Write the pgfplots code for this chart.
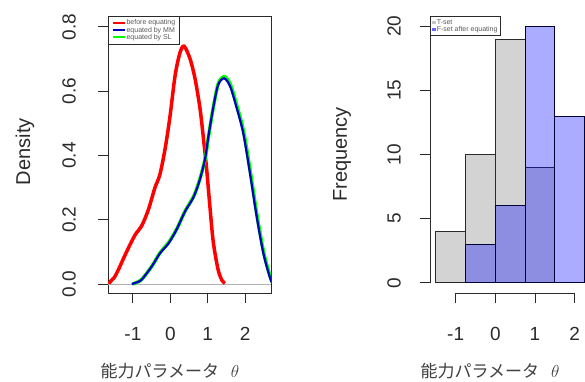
\documentclass[border=0pt]{standalone}
\usepackage{pgfplots}
\pgfplotsset{compat=1.18}
\usepackage{fontspec}
\setmainfont{Liberation Sans}
\newfontfamily\jp{Noto Sans CJK JP}
\definecolor{rgray}{HTML}{D3D3D3}
\definecolor{rblue}{HTML}{0000FF}
\definecolor{rgreen}{HTML}{00FF00}
\definecolor{rred}{HTML}{FF0000}
\definecolor{axcol}{HTML}{2A2A2A}

\begin{document}
\begin{tikzpicture}[x=1pt,y=1pt]
\useasboundingbox (0,0) rectangle (585,381);
% ---------------- left: density ----------------
\begin{axis}[
  at={(108pt,88pt)}, anchor=south west,
  scale only axis, width=163pt, height=277pt,
  xmin=-1.666, xmax=2.693, ymin=-0.028, ymax=0.834,
  axis line style={line width=0.9pt, axcol},
  xtick={-1,0,1,2}, xticklabels={-1,0,1,2},
  ytick={0,0.2,0.4,0.6,0.8}, yticklabels={0.0,0.2,0.4,0.6,0.8},
  xtick pos=left, ytick pos=left,
  tick align=outside, major tick length=10pt,
  tick style={line width=0.9pt, axcol},
  ticklabel style={font=\fontsize{19}{22}\selectfont, inner sep=0pt, text=axcol},
  xticklabel style={anchor=north, yshift=-24pt},
  yticklabel style={xshift=-22pt, rotate=90, anchor=south},
  ylabel={Density},
  ylabel style={at={(axis description cs:-0.509,0.51)}, anchor=center, font=\fontsize{20}{24}\selectfont, text=axcol},
  xlabel={\jp 能力パラメータ\hspace{0.7em}$\theta$},
  xlabel style={at={(axis description cs:0.38,-0.283)}, anchor=center, font=\fontsize{17}{20}\selectfont, text=black!75},
  legend style={at={(0,1)}, anchor=north west, draw=axcol, line width=0.8pt, fill=white,
    font=\fontsize{7}{8}\selectfont, text=black!65, inner xsep=3pt, inner ysep=2.5pt,
    row sep=-1.5pt, nodes={inner sep=1pt}},
  legend cell align=left,
  legend image code/.code={\draw[#1, line width=2.2pt] (0pt,0pt) -- (12pt,0pt);},
]
\addplot[gray!60, line width=0.8pt, forget plot] coordinates {(-1.666,0) (2.693,0)};
\addplot[rred, line width=3.5pt, smooth] coordinates {
(-1.63,0.0) (-1.61,0.007) (-1.5,0.02) (-1.39,0.044) (-1.17,0.10) (-0.94,0.153) (-0.77,0.18)
(-0.59,0.23) (-0.41,0.30) (-0.28,0.34) (-0.14,0.42) (-0.01,0.52) (0.13,0.65) (0.26,0.72)
(0.37,0.74) (0.53,0.70) (0.66,0.64) (0.79,0.55) (0.88,0.46) (0.97,0.36) (1.06,0.24)
(1.15,0.13) (1.28,0.044) (1.38,0.012) (1.46,0.002)};
\addlegendentry{before equating}
\addplot[rgreen, line width=3.5pt, smooth, forget plot] coordinates {
(-1.0,0.0) (-0.88,0.006) (-0.75,0.016) (-0.49,0.056) (-0.27,0.098) (-0.04,0.13) (0.18,0.173)
(0.40,0.228) (0.63,0.274) (0.80,0.33) (0.94,0.395) (1.03,0.465) (1.16,0.556) (1.29,0.626)
(1.45,0.645) (1.61,0.62) (1.78,0.555) (1.96,0.475) (2.14,0.35) (2.32,0.213) (2.50,0.097)
(2.68,0.02) (2.76,0.0)};
\addplot[rblue!75!black, line width=2.2pt, smooth] coordinates {
(-1.03,0.0) (-0.9,0.005) (-0.77,0.013) (-0.5,0.054) (-0.28,0.095) (-0.05,0.126) (0.17,0.17)
(0.39,0.225) (0.62,0.27) (0.79,0.325) (0.93,0.39) (1.02,0.46) (1.15,0.55) (1.28,0.62)
(1.44,0.64) (1.60,0.615) (1.77,0.55) (1.95,0.47) (2.13,0.345) (2.31,0.21) (2.49,0.095)
(2.67,0.018) (2.75,0.0)};
\addlegendentry{equated by MM}
\addlegendimage{rgreen}
\addlegendentry{equated by SL}
\end{axis}
% ---------------- right: histogram ----------------
\begin{axis}[
  at={(430pt,88pt)}, anchor=south west,
  scale only axis, width=155pt, height=277pt,
  xmin=-1.646, xmax=2.261, ymin=-0.8, ymax=20.8,
  axis x line*=bottom, axis y line*=left,
  axis line style={line width=0.9pt, axcol},
  x axis line style={shorten <=25.6pt, shorten >=10.35pt},
  y axis line style={shorten <=10.26pt, shorten >=10.26pt},
  xtick={-1,0,1,2}, xticklabels={-1,0,1,2},
  ytick={0,5,10,15,20}, yticklabels={0,5,10,15,20},
  tick align=outside, major tick length=10pt,
  tick style={line width=0.9pt, axcol},
  ticklabel style={font=\fontsize{19}{22}\selectfont, inner sep=0pt, text=axcol},
  xticklabel style={anchor=north, yshift=-24pt},
  yticklabel style={xshift=-19pt, rotate=90, anchor=south},
  ylabel={Frequency},
  ylabel style={at={(axis description cs:-0.568,0.5)}, anchor=center, font=\fontsize{20}{24}\selectfont, text=axcol},
  xlabel={\jp 能力パラメータ\hspace{0.7em}$\theta$},
  xlabel style={at={(axis description cs:0.387,-0.283)}, anchor=center, font=\fontsize{17}{20}\selectfont, text=black!75},
  legend style={at={(0,1)}, anchor=north west, draw=axcol, line width=0.8pt, fill=white,
    font=\fontsize{7}{8}\selectfont, text=black!65, inner xsep=2pt, inner ysep=2pt,
    row sep=-1.5pt, nodes={inner sep=1pt}},
  legend cell align=left,
]
\addplot[ybar interval, fill=rgray, draw=axcol, line width=0.9pt, forget plot] coordinates {
(-1.5,4) (-0.75,10) (0,19) (0.75,9) (1.5,0)};
\addplot[ybar interval, fill=rblue, fill opacity=0.33, draw=black!80!blue, draw opacity=1, line width=0.9pt, forget plot] coordinates {
(-0.75,3) (0,6) (0.75,20) (1.5,13) (2.25,0)};
\addlegendimage{legend image code/.code={\fill[gray!45] (0pt,-1.3pt) rectangle (2.6pt,1.3pt);}}
\addlegendentry{T-set}
\addlegendimage{legend image code/.code={\fill[rblue!60] (0pt,-1.3pt) rectangle (2.6pt,1.3pt);}}
\addlegendentry{F-set after equating}
\end{axis}
\end{tikzpicture}
\end{document}
